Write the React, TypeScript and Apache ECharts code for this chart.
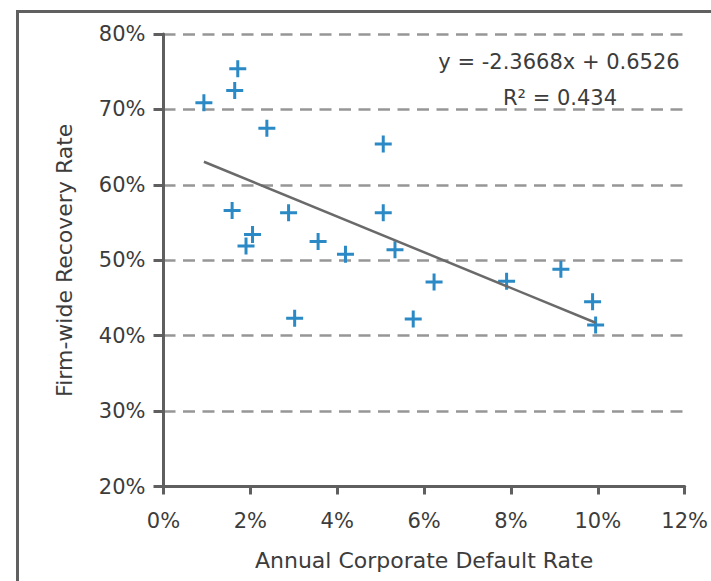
import React, { useEffect, useRef } from "react";
import * as echarts from "echarts";

// Annual corporate default rate (%), firm-wide recovery rate (%)
const defaultRate = [0.93, 1.71, 1.64, 2.38, 5.06, 1.58, 2.88, 5.06, 2.05, 1.9, 3.56, 4.19, 5.33, 6.23, 7.9, 9.15, 9.88, 9.95, 3.02, 5.75];
const recoveryRate = [70.9, 75.4, 72.5, 67.5, 65.4, 56.6, 56.3, 56.3, 53.4, 51.9, 52.5, 50.8, 51.4, 47.1, 47.2, 48.8, 44.5, 41.4, 42.3, 42.2];

// Linear trendline (as stated on the chart): y = -2.3668x + 0.6526
const trendSlope = -2.3668;
const trendIntercept = 65.26; // in percent units
const equationText = "y = -2.3668x + 0.6526";
const r2Text = "R² = 0.434";

const xAxisTitle = "Annual Corporate Default Rate";
const yAxisTitle = "Firm-wide Recovery Rate";

const FONT = "DejaVu Sans";

export default function App() {
  const ref = useRef<HTMLDivElement>(null);

  useEffect(() => {
    if (!ref.current) return;
    const chart = echarts.init(ref.current, undefined, { renderer: "svg" });

    const points = defaultRate.map((x, i) => [x, recoveryRate[i]]);
    const xMin = Math.min(...defaultRate);
    const xMax = Math.max(...defaultRate);
    const trend = [
      [xMin, trendSlope * xMin + trendIntercept],
      [xMax, trendSlope * xMax + trendIntercept],
    ];

    chart.setOption({
      animation: false,
      backgroundColor: "#ffffff",
      grid: { left: 163.5, right: 22.5, top: 34, bottom: 94.5, containLabel: false },
      xAxis: {
        type: "value",
        min: 0,
        max: 12,
        interval: 2,
        name: xAxisTitle,
        nameLocation: "middle",
        nameGap: 63,
        nameTextStyle: { fontFamily: FONT, fontSize: 22, color: "#3c3c3c" },
        axisLine: { show: true, lineStyle: { color: "#5f5f5f", width: 3 } },
        axisTick: { show: true, inside: false, length: 8, lineStyle: { color: "#5f5f5f", width: 3 } },
        axisLabel: {
          margin: 24,
          fontFamily: FONT,
          fontSize: 21,
          color: "#3c3c3c",
          formatter: (v: number) => Math.round(v) + "%",
        },
        splitLine: { show: false },
      },
      yAxis: {
        type: "value",
        min: 20,
        max: 80,
        interval: 10,
        name: yAxisTitle,
        nameLocation: "middle",
        nameRotate: 90,
        nameGap: 88,
        nameTextStyle: { fontFamily: FONT, fontSize: 22, color: "#3c3c3c" },
        axisLine: { show: true, lineStyle: { color: "#5f5f5f", width: 3 } },
        axisTick: { show: true, inside: false, length: 10, lineStyle: { color: "#5f5f5f", width: 3 } },
        axisLabel: {
          margin: 18,
          fontFamily: FONT,
          fontSize: 21,
          color: "#3c3c3c",
          formatter: (v: number) => Math.round(v) + "%",
        },
        splitLine: {
          show: true,
          lineStyle: { color: "#969696", width: 2.5, type: [12, 7.5] },
        },
      },
      series: [
        {
          type: "scatter",
          data: points,
          symbol: "path://M7,0H10V7H17V10H10V17H7V10H0V7H7Z",
          symbolSize: 17,
          itemStyle: { color: "#2b8ac5", opacity: 1 },
          z: 2,
        },
        {
          type: "line",
          data: trend,
          symbol: "none",
          lineStyle: { color: "#6a6a6a", width: 2.5 },
          z: 3,
        },
      ],
      graphic: [
        {
          type: "rect",
          shape: { x: 17.5, y: 11.5, width: 760, height: 640 },
          style: { fill: "none", stroke: "#606060", lineWidth: 3 },
          silent: true,
          z: 0,
        },
        {
          type: "text",
          x: 559,
          y: 62,
          style: {
            text: equationText,
            fontFamily: FONT,
            fontSize: 21,
            fill: "#3c3c3c",
            textAlign: "center",
            textVerticalAlign: "middle",
          },
        },
        {
          type: "text",
          x: 560,
          y: 98,
          style: {
            text: r2Text,
            fontFamily: FONT,
            fontSize: 21,
            fill: "#3c3c3c",
            textAlign: "center",
            textVerticalAlign: "middle",
          },
        },
      ],
    });

    return () => chart.dispose();
  }, []);

  return (
    <div
      ref={ref}
      style={{ position: "fixed", left: 0, top: 0, width: 711, height: 581, background: "#fff" }}
    />
  );
}
